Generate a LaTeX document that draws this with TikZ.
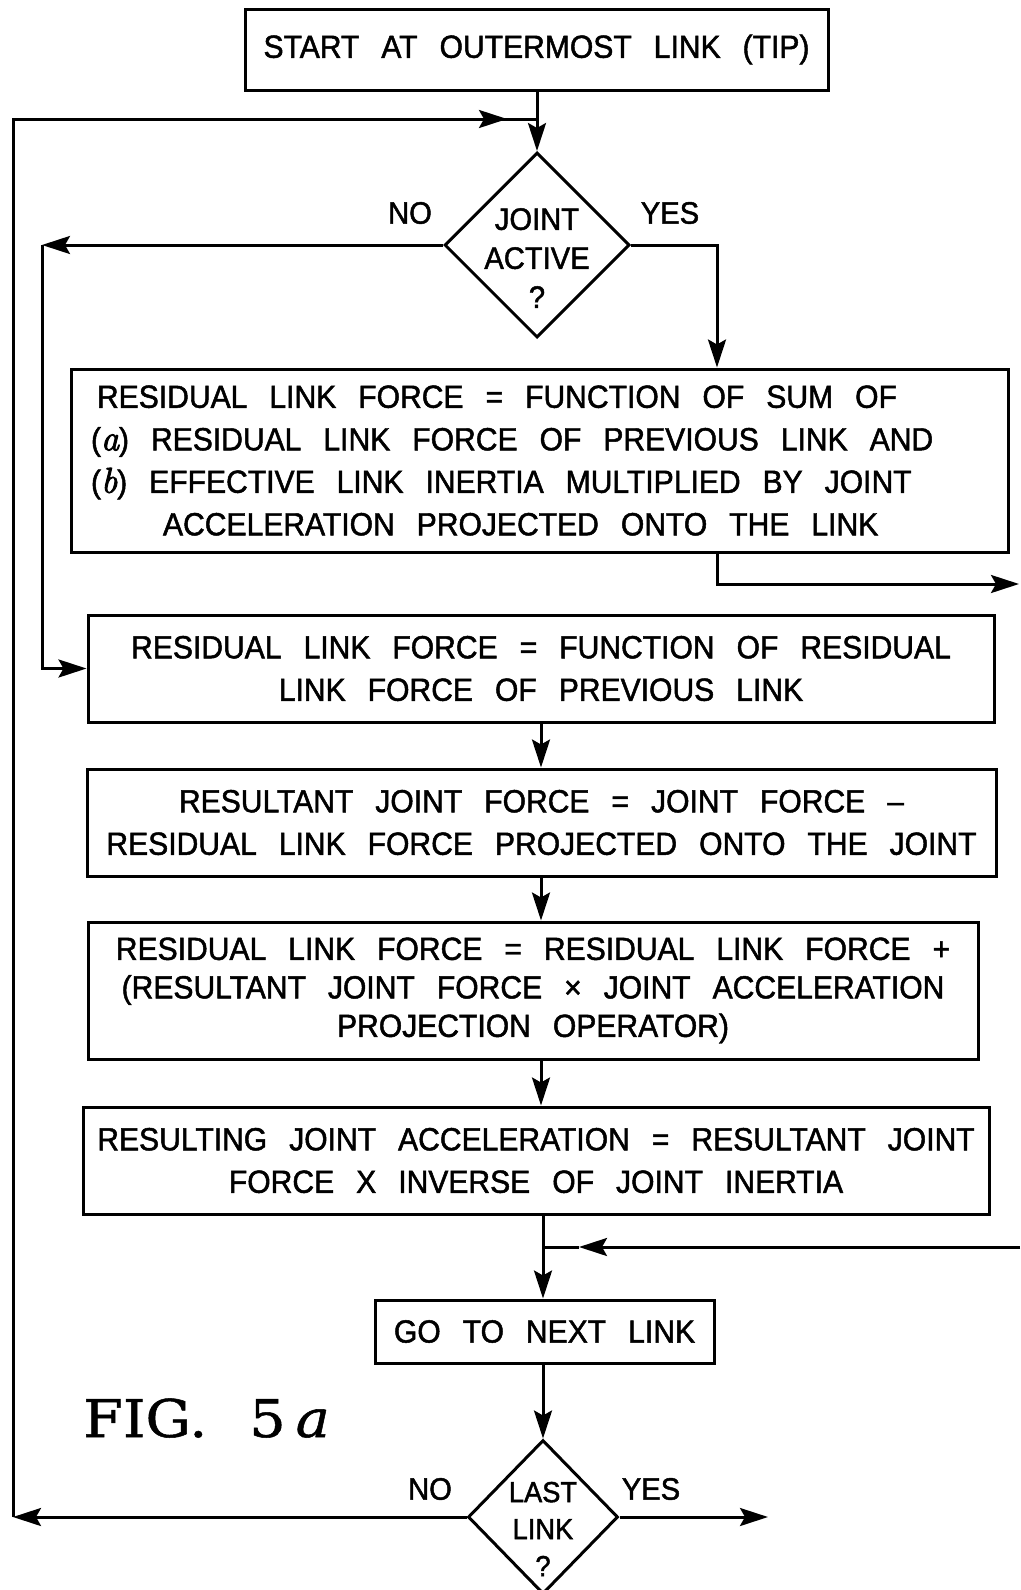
\documentclass[tikz,border=0pt]{standalone}
\usepackage{fontspec}
\newfontfamily\lab[FakeStretch=0.94,FakeBold=1.5]{Liberation Sans}
\newfontfamily\figfont[FakeStretch=1.1,FakeBold=1]{DejaVu Serif}
\newfontfamily\itfont[FakeBold=2.5]{Latin Modern Roman}
\newcommand\wsp{\spaceskip=22pt plus 6pt minus 3pt\xspaceskip=22pt\relax}
\newcommand\labsz[2]{\lab\fontsize{#1}{#2}\selectfont\wsp}
\newcommand\itl[1]{{\itfont\itshape\fontsize{36}{40}\selectfont #1}}
\usetikzlibrary{shapes.geometric,arrows.meta}
\tikzset{
  box/.style={draw, line width=3pt, inner sep=0pt, font=\labsz{32}{42.5}, align=center},
  dia/.style={draw, diamond, aspect=1, line width=3pt, inner sep=0pt},
  lbl/.style={font=\labsz{31}{39}, align=center, inner sep=0pt},
  conn/.style={line width=3pt},
  arr/.style={conn, -{Stealth[length=28pt,width=18pt,inset=5pt]}},
}
\begin{document}
\begin{tikzpicture}[x=1pt,y=-1pt]
\useasboundingbox (0,0) rectangle (1020,1590);
\fill[white] (0,0) rectangle (1020,1590);

% boxes
\node[box, minimum width=583pt, minimum height=81pt] (start) at (536.5,49.5) {START AT OUTERMOST LINK (TIP)};
\node[dia, minimum width=185pt, minimum height=185pt] (d1) at (537,245) {};
\node[lbl] (d1t) at (537,258) {JOINT\\ACTIVE\\?};

\node[box, align=left, text width=897pt, inner xsep=20pt, minimum height=183pt] (box2) at (539.5,460.5)
 {\wsp\hspace{6pt}RESIDUAL LINK FORCE = FUNCTION OF SUM OF\\
  (\itl{a}) RESIDUAL LINK FORCE OF PREVIOUS LINK AND\\
  (\itl{b}) EFFECTIVE LINK INERTIA MULTIPLIED BY JOINT\\
  \hspace{72pt}ACCELERATION PROJECTED ONTO THE LINK};

\node[box, minimum width=906pt, minimum height=107pt] (box3) at (541,668.5)
 {RESIDUAL LINK FORCE = FUNCTION OF RESIDUAL\\LINK FORCE OF PREVIOUS LINK};
\node[box, minimum width=909pt, minimum height=107pt] (box4) at (541.5,822.5)
 {RESULTANT JOINT FORCE = JOINT FORCE \textendash\\RESIDUAL LINK FORCE PROJECTED ONTO THE JOINT};
\node[box, minimum width=890pt, minimum height=137pt, font=\labsz{32}{38.5}] (box5) at (533,990.5)
 {RESIDUAL LINK FORCE = RESIDUAL LINK FORCE +\\(RESULTANT JOINT FORCE × JOINT ACCELERATION\\PROJECTION OPERATOR)};
\node[box, minimum width=906pt, minimum height=107pt] (box6) at (536,1160.5)
 {RESULTING JOINT ACCELERATION = RESULTANT JOINT\\FORCE X INVERSE OF JOINT INERTIA};
\node[box, minimum width=339pt, minimum height=63pt] (box7) at (544.5,1331.5) {GO TO NEXT LINK};

\node[dia, minimum width=150pt, minimum height=154pt] (d2) at (543,1517) {};
\node[lbl, font=\labsz{29}{37}] (d2t) at (543,1529) {LAST\\LINK\\?};

% labels
\node[lbl] (no1) at (410,213) {NO};
\node[lbl] (yes1) at (670,213) {YES};
\node[lbl] (no2) at (430,1489) {NO};
\node[lbl] (yes2l) at (651,1489) {YES};

\node[anchor=base west, inner sep=0pt, font=\figfont\fontsize{52}{56}\selectfont] (fig) at (83,1437)
 {FIG.\hspace{42pt}5\hspace{10pt}\textit{a}};

% coordinates
\coordinate (sp) at (541,0);
\coordinate (cTL) at (13,119);
\coordinate (jTop) at (537,119);
\coordinate (tipTop) at (507,119);
\coordinate (cBL) at (13,1517);
\coordinate (cNo) at (42,245);
\coordinate (cYes) at (717,245);
\coordinate (cOut) at (717,584);
\coordinate (outR) at (1019,584);
\coordinate (inR) at (1020,1247);
\coordinate (tipBot) at (579,1247);
\coordinate (jBot) at (543,1247);
\coordinate (yes2) at (768,1517);

% connectors
\draw[arr] (start.south -| d1.north) -- (d1.north);
\draw[conn] (cBL) -- (cTL) -- (jTop);
\draw[arr] (cTL) -- (tipTop);
\draw[arr] (d1.west) -- (cNo);
\draw[arr] (cNo) |- (box3.west);
\draw[arr] (d1.east) -- (cYes) -- (cYes |- box2.north);
\draw[arr] (cOut |- box2.south) -- (cOut) -- (outR);
\draw[arr] (box3.south -| sp) -- (box4.north -| sp);
\draw[arr] (box4.south -| sp) -- (box5.north -| sp);
\draw[arr] (box5.south -| sp) -- (box6.north -| sp);
\draw[arr] (box6.south -| d2.north) -- (box7.north -| d2.north);
\draw[arr] (inR) -- (tipBot);
\draw[conn] (tipBot) -- (jBot);
\draw[arr] (box7.south -| d2.north) -- (d2.north);
\draw[arr] (d2.west) -- (cBL);
\draw[arr] (d2.east) -- (yes2);
\end{tikzpicture}
\end{document}
